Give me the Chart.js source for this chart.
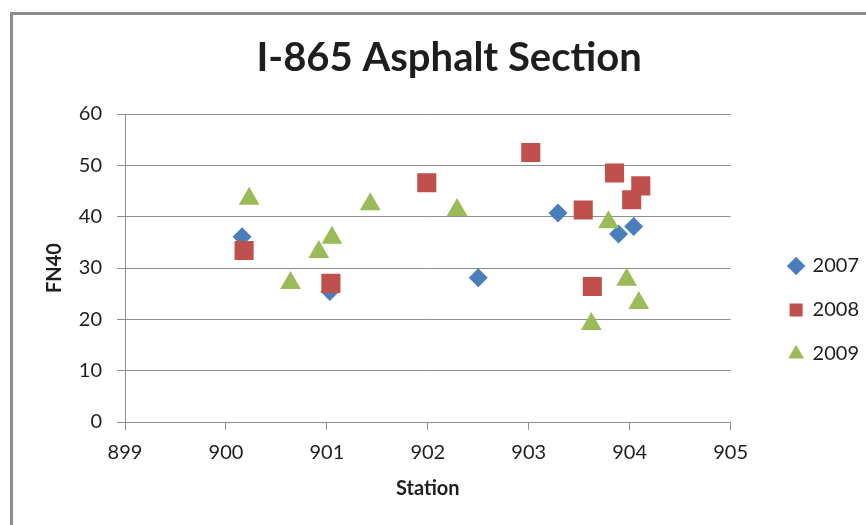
<!DOCTYPE html>
<html>
<head>
<meta charset="utf-8">
<script src="https://cdn.jsdelivr.net/npm/chart.js@4.4.1/dist/chart.umd.min.js"></script>
<style>
  html, body { margin: 0; padding: 0; background: #fff; overflow: hidden; }
  #wrap { position: relative; width: 866px; height: 525px; }
  #frame { position: absolute; left: 10px; top: 12px; width: 900px; height: 600px; border: 3px solid #8c8c8c; }
  #myChart { position: absolute; left: 0; top: 0; }
</style>
</head>
<body>
<div id="wrap">
  <div id="frame"></div>
  <canvas id="myChart" width="866" height="525"></canvas>
</div>
<script>
// stations and FN40 readings per year
const station2007 = [900.16, 901.03, 902.50, 903.29, 903.89, 904.04];
const fn2007 = [36.1, 25.4, 28.1, 40.7, 36.6, 38.1];

const station2008 = [900.18, 901.04, 901.99, 903.02, 903.54, 903.63, 903.85, 904.02, 904.11];
const fn2008 = [33.4, 27.0, 46.6, 52.5, 41.3, 26.4, 48.5, 43.3, 46.0];

const station2009 = [900.23, 900.64, 900.92, 901.05, 901.43, 902.29, 903.62, 903.79, 903.97, 904.09];
const fn2009 = [43.5, 27.1, 33.1, 35.9, 42.4, 41.3, 19.1, 38.9, 27.7, 23.2];

const seriesNames = ["2007", "2008", "2009"];

const toPoints = (xs, ys) => xs.map((x, i) => ({ x: x, y: ys[i] }));

const gridGray = "#8e8e8e";
const textColor = "#1e1e1e";

Chart.defaults.font.family = "Lato";
Chart.defaults.color = textColor;

const ctx = document.getElementById("myChart").getContext("2d");

new Chart(ctx, {
  type: "scatter",
  data: {
    datasets: [
      {
        label: seriesNames[0],
        data: toPoints(station2007, fn2007),
        pointStyle: "rectRot",
        pointRadius: 9.5,
        backgroundColor: "#4a7ebb",
        borderColor: "#4a7ebb",
        borderWidth: 0,
        order: 3,
      },
      {
        label: seriesNames[1],
        data: toPoints(station2008, fn2008),
        pointStyle: "rect",
        pointRadius: 13.5,
        backgroundColor: "#c0504d",
        borderColor: "#c0504d",
        borderWidth: 0,
        order: 2,
      },
      {
        label: seriesNames[2],
        data: toPoints(station2009, fn2009),
        pointStyle: "triangle",
        pointRadius: 12,
        backgroundColor: "#9bbb59",
        borderColor: "#9bbb59",
        borderWidth: 0,
        order: 1,
      },
    ],
  },
  options: {
    responsive: false,
    animation: false,
    layout: { padding: { left: 0, top: 0, right: -3, bottom: 0 } },
    plugins: {
      tooltip: { enabled: false },
      title: {
        display: true,
        // leading spaces nudge the centred title right, like the original
        text: "   I-865 Asphalt Section",
        color: textColor,
        font: { size: 40, weight: "bold" },
        padding: { top: 34, bottom: 32 },
      },
      legend: {
        display: true,
        position: "right",
        fullSize: false,
        title: { display: true, text: " ", font: { size: 10 }, padding: { top: 0, bottom: 72 } },
        labels: {
          usePointStyle: true,
          boxWidth: 13,
          boxHeight: 13,
          padding: 24,
          color: textColor,
          font: { size: 20 },
          sort: (a, b) => a.datasetIndex - b.datasetIndex,
        },
      },
    },
    scales: {
      x: {
        type: "linear",
        position: "bottom",
        min: 899,
        max: 905,
        ticks: { stepSize: 1, padding: 11, font: { size: 20 }, color: textColor },
        grid: { drawOnChartArea: false, drawTicks: true, tickLength: 8, color: gridGray },
        border: { display: true, color: gridGray },
        title: { display: true, text: "Station", font: { size: 20, weight: "bold" }, color: textColor, padding: { top: 0, bottom: 24 } },
        afterFit: (scale) => { scale.height = 103; },
      },
      y: {
        type: "linear",
        position: "left",
        min: 0,
        max: 60,
        ticks: { stepSize: 10, padding: 15, font: { size: 20 }, color: textColor },
        grid: { drawTicks: true, tickLength: 8, color: gridGray },
        border: { display: true, color: gridGray },
        title: { display: true, text: "FN40", font: { size: 20, weight: "bold" }, color: textColor, padding: { top: 43, bottom: 0 } },
        afterFit: (scale) => { scale.width = 125; },
      },
      gap: {
        type: "linear",
        position: "right",
        display: true,
        ticks: { display: false },
        grid: { display: false },
        border: { display: false },
        afterFit: (scale) => { scale.width = 35; },
      },
    },
  },
});
</script>
</body>
</html>
